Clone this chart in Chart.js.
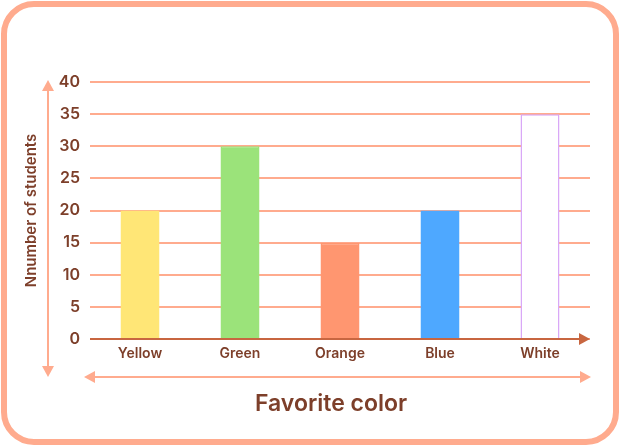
<!DOCTYPE html>
<html>
<head>
<meta charset="utf-8">
<script src="https://cdn.jsdelivr.net/npm/chart.js@4"></script>
<style>
  html, body { margin: 0; padding: 0; background: #ffffff; }
  #wrap { width: 620px; height: 446px; }
</style>
</head>
<body>
<div id="wrap"><canvas id="colorCanvas"></canvas></div>
<script>
// chart data
const colorNames = ['Yellow', 'Green', 'Orange', 'Blue', 'White'];
const studentCounts = [20, 30, 15, 20, 35];
const barColors = ['#ffe676', '#9be37a', '#ff9670', '#4ea8ff', '#ffffff'];
const barBorders = ['#ffe676', '#9be37a', '#ff9670', '#4ea8ff', '#d9a8f7'];
const yTitle = 'Nnumber of students';
const xTitle = 'Favorite color';

const peach = '#ffab8e';
const brown = '#7d3f2a';
const axisBrown = '#c86640';
const fontFam = 'Inter, Lato, sans-serif';

function arrowHead(ctx, x, y, dir, color) {
    // dir: 'up', 'down', 'left', 'right'
    const s = 6, l = 11;
    ctx.fillStyle = color;
    ctx.beginPath();
    if (dir === 'up') { ctx.moveTo(x, y); ctx.lineTo(x - s, y + l); ctx.lineTo(x + s, y + l); }
    if (dir === 'down') { ctx.moveTo(x, y); ctx.lineTo(x - s, y - l); ctx.lineTo(x + s, y - l); }
    if (dir === 'left') { ctx.moveTo(x, y); ctx.lineTo(x + l, y - s); ctx.lineTo(x + l, y + s); }
    if (dir === 'right') { ctx.moveTo(x, y); ctx.lineTo(x - l, y - s); ctx.lineTo(x - l, y + s); }
    ctx.closePath();
    ctx.fill();
}

// draws the frame, arrows and axis titles around the bars
const decorPlugin = {
    id: 'decor',
    beforeDraw(chart) {
        const ctx = chart.ctx;
        ctx.save();
        ctx.strokeStyle = peach;
        ctx.lineWidth = 6;
        ctx.beginPath();
        ctx.roundRect(4, 4, 612, 438, 30);
        ctx.stroke();
        ctx.restore();
    },
    afterDraw(chart) {
        const ctx = chart.ctx;
        const area = chart.chartArea;
        ctx.save();

        // x axis line with arrow
        ctx.strokeStyle = axisBrown;
        ctx.lineWidth = 2;
        ctx.beginPath();
        ctx.moveTo(area.left, area.bottom);
        ctx.lineTo(area.right - 6, area.bottom);
        ctx.stroke();
        arrowHead(ctx, area.right, area.bottom, 'right', axisBrown);

        // vertical double arrow
        const ax = 48, top = 80, bot = 377;
        ctx.strokeStyle = peach;
        ctx.beginPath();
        ctx.moveTo(ax, top + 6);
        ctx.lineTo(ax, bot - 6);
        ctx.stroke();
        arrowHead(ctx, ax, top, 'up', peach);
        arrowHead(ctx, ax, bot, 'down', peach);

        // horizontal double arrow
        const hy = 377, hl = 84, hr = 591;
        ctx.beginPath();
        ctx.moveTo(hl + 6, hy);
        ctx.lineTo(hr - 6, hy);
        ctx.stroke();
        arrowHead(ctx, hl, hy, 'left', peach);
        arrowHead(ctx, hr, hy, 'right', peach);

        // titles
        ctx.fillStyle = brown;
        ctx.textAlign = 'center';
        ctx.textBaseline = 'middle';
        ctx.font = '600 23px ' + fontFam;
        ctx.fillText(xTitle, 331, 404);

        ctx.translate(31, (area.top + area.bottom) / 2);
        ctx.rotate(-Math.PI / 2);
        ctx.font = '600 15px ' + fontFam;
        ctx.fillText(yTitle, 0, 0);
        ctx.restore();
    }
};

const ctx = document.getElementById('colorCanvas').getContext('2d');

let colorChart = new Chart(ctx, {
    type: 'bar',
    data: {
        labels: colorNames,
        datasets: [{
            data: studentCounts,
            backgroundColor: barColors,
            borderColor: barBorders,
            borderWidth: 1.5,
            barPercentage: 0.39,
            categoryPercentage: 1.0
        }]
    },
    options: {
        responsive: true,
        maintainAspectRatio: false,
        animation: false,
        layout: {
            padding: { left: 0, right: 30, top: 82, bottom: 0 }
        },
        plugins: {
            legend: { display: false },
            tooltip: { enabled: false }
        },
        scales: {
            x: {
                grid: { display: false, drawTicks: false },
                border: { display: false },
                ticks: {
                    color: brown,
                    padding: 6,
                    font: { family: fontFam, size: 14, weight: '600' }
                },
                afterFit(scale) { scale.height = 107; }
            },
            y: {
                min: 0,
                max: 40,
                ticks: {
                    stepSize: 5,
                    color: brown,
                    padding: 10,
                    font: { family: fontFam, size: 16, weight: '600' }
                },
                grid: {
                    color: peach,
                    lineWidth: 2,
                    drawTicks: false
                },
                border: { display: false },
                afterFit(scale) { scale.width = 90; }
            }
        }
    },
    plugins: [decorPlugin]
});
</script>
</body>
</html>
